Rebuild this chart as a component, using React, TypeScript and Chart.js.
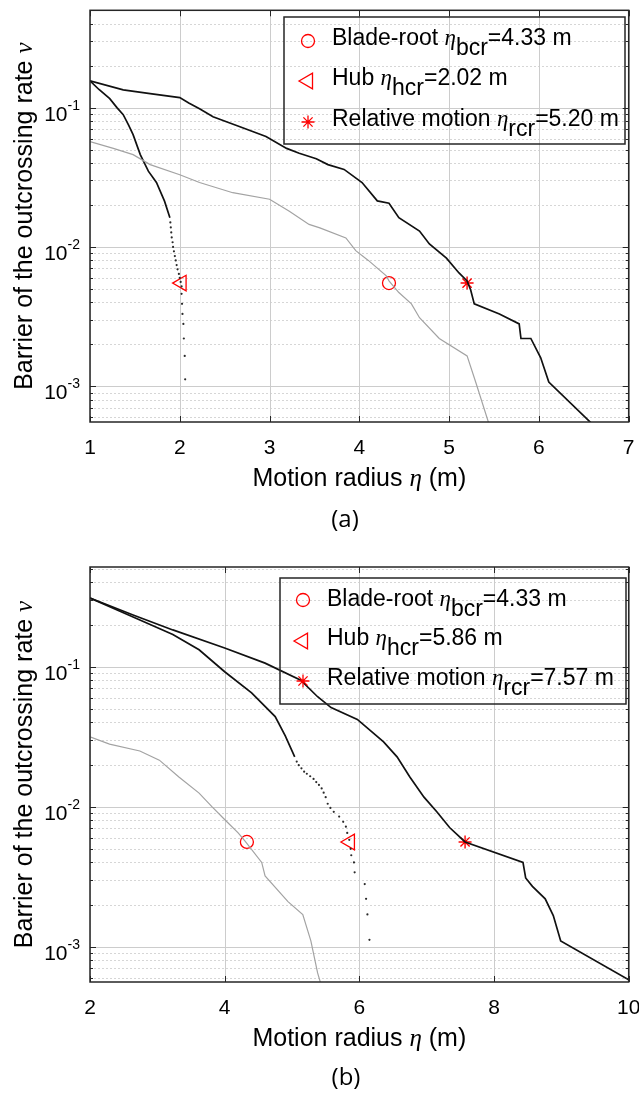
import React, { useEffect, useRef } from 'react';
import { Chart, registerables } from 'chart.js';

Chart.register(...registerables);

// ---------------- Panel (a) data ----------------
const aRelX = [1.0, 1.37, 1.67, 2.0, 2.1, 2.22, 2.37, 2.67, 2.96, 3.19, 3.33, 3.52, 3.65, 3.83, 4.03, 4.2, 4.33, 4.44, 4.67, 4.78, 4.97, 5.11, 5.2, 5.24, 5.28, 5.56, 5.78, 5.8, 5.91, 6.02, 6.11, 6.6];
const aRelY = [0.156, 0.134, 0.126, 0.118, 0.108, 0.098, 0.086, 0.073, 0.062, 0.051, 0.047, 0.043, 0.039, 0.036, 0.029, 0.0214, 0.0206, 0.0162, 0.013, 0.0105, 0.0083, 0.0065, 0.0057, 0.0049, 0.0039, 0.0033, 0.0028, 0.0022, 0.0022, 0.0016, 0.00107, 0.00053];
const aHubX = [1.0, 1.1, 1.22, 1.3, 1.37, 1.43, 1.48, 1.56, 1.65, 1.74, 1.83, 1.89];
const aHubY = [0.156, 0.135, 0.116, 0.1, 0.089, 0.075, 0.064, 0.046, 0.035, 0.029, 0.0213, 0.0162];
const aHubDotX = [1.895, 1.9, 1.905, 1.91, 1.92, 1.925, 1.935, 1.945, 1.955, 1.965, 1.975, 1.99, 2.0, 2.01, 2.02, 2.02, 2.025, 2.03, 2.04, 2.045, 2.055, 2.06];
const aHubDotY = [0.015, 0.0138, 0.0127, 0.0117, 0.0108, 0.01, 0.0093, 0.0086, 0.008, 0.0074, 0.0069, 0.0064, 0.006, 0.0056, 0.0052, 0.0046, 0.0039, 0.0033, 0.0028, 0.0022, 0.00165, 0.00112];
const aBladeX = [1.0, 1.26, 1.48, 1.67, 2.0, 2.22, 2.59, 3.0, 3.22, 3.44, 3.56, 3.85, 3.96, 4.1, 4.3, 4.33, 4.44, 4.58, 4.67, 4.89, 5.2, 5.3, 5.45];
const aBladeY = [0.057, 0.051, 0.046, 0.039, 0.033, 0.029, 0.0245, 0.022, 0.018, 0.0145, 0.0137, 0.0116, 0.0094, 0.008, 0.0062, 0.0057, 0.0047, 0.0039, 0.0031, 0.0022, 0.00165, 0.00105, 0.00052];
const aXTicks = [1, 2, 3, 4, 5, 6, 7];
const aCritical = [4.33, 2.02, 5.2]; // blade-root, hub, relative motion
const aLevel = 0.0055;

// ---------------- Panel (b) data ----------------
const bRelX = [2.0, 2.64, 3.23, 4.0, 4.6, 5.13, 5.38, 5.58, 5.97, 6.36, 6.56, 6.75, 6.96, 7.15, 7.34, 7.57, 8.43, 8.47, 8.57, 8.76, 8.88, 8.99, 10.0];
const bRelY = [0.309, 0.234, 0.183, 0.136, 0.106, 0.08, 0.061, 0.051, 0.042, 0.029, 0.0227, 0.0163, 0.0117, 0.0092, 0.0071, 0.0056, 0.004, 0.0031, 0.0027, 0.0022, 0.00167, 0.0011, 0.00058];
const bHubX = [2.0, 2.64, 3.23, 3.62, 4.0, 4.4, 4.75, 4.9, 5.04];
const bHubY = [0.309, 0.226, 0.17, 0.132, 0.092, 0.065, 0.044, 0.032, 0.0227];
const bHubDotX = [5.07, 5.1, 5.14, 5.18, 5.22, 5.27, 5.32, 5.36, 5.4, 5.44, 5.47, 5.5, 5.53, 5.57, 5.62, 5.7, 5.76, 5.8, 5.82, 5.85, 5.87, 5.88, 5.92, 5.93, 6.08, 6.1, 6.12, 6.15];
const bHubDotY = [0.021, 0.0198, 0.0188, 0.0178, 0.0172, 0.0165, 0.0158, 0.015, 0.0143, 0.0135, 0.0126, 0.0117, 0.0105, 0.0098, 0.0092, 0.0085, 0.0078, 0.0072, 0.0065, 0.0058, 0.005, 0.0045, 0.004, 0.0034, 0.0028, 0.0022, 0.0017, 0.00112];
const bBladeX = [2.0, 2.29, 2.74, 3.03, 3.32, 3.62, 3.81, 4.01, 4.2, 4.3, 4.55, 4.6, 4.94, 5.16, 5.28, 5.38, 5.45];
const bBladeY = [0.0316, 0.028, 0.025, 0.0215, 0.0163, 0.0125, 0.01, 0.008, 0.0065, 0.0057, 0.004, 0.0032, 0.0021, 0.0017, 0.0011, 0.00065, 0.0005];
const bXTicks = [2, 4, 6, 8, 10];
const bCritical = [4.33, 5.86, 7.57];
const bLevel = 0.0056;

// ---------------- Shared labels ----------------
const yTickExponents = [-3, -2, -1];
const minorMultipliers = [2, 3, 4, 5, 6, 7, 8, 9];
const legendLabels = ['Blade-root', 'Hub', 'Relative motion'];
const legendSubs = ['bcr', 'hcr', 'rcr'];
const xTitleText = 'Motion radius ';
const yTitleText = 'Barrier of the outcrossing rate ';

const SANS = '"Liberation Sans", Arial, Helvetica, sans-serif';
const SERIF = '"Liberation Serif", "Times New Roman", serif';
const CAPTION_FONT = '"Open Sans", "Noto Sans", sans-serif';
const RED = '#ff0000';
const BLACK = '#111111';

type Part = { t: string; font: string; dy?: number };

function drawParts(ctx: CanvasRenderingContext2D, parts: Part[], x: number, y: number, align: 'left' | 'center' | 'right') {
  let total = 0;
  const widths = parts.map((p) => {
    ctx.font = p.font;
    const w = ctx.measureText(p.t).width;
    total += w;
    return w;
  });
  let cx = align === 'left' ? x : align === 'center' ? x - total / 2 : x - total;
  ctx.textAlign = 'left';
  ctx.textBaseline = 'alphabetic';
  parts.forEach((p, i) => {
    ctx.font = p.font;
    ctx.fillText(p.t, cx, y + (p.dy || 0));
    cx += widths[i];
  });
}

function drawMarker(ctx: CanvasRenderingContext2D, kind: string, x: number, y: number) {
  ctx.save();
  ctx.strokeStyle = RED;
  ctx.lineWidth = 1.3;
  ctx.beginPath();
  if (kind === 'circle') {
    ctx.arc(x, y, 6.5, 0, Math.PI * 2);
  } else if (kind === 'triangle') {
    const r = 9;
    ctx.moveTo(x - r, y);
    ctx.lineTo(x + r / 2, y - (r * Math.sqrt(3)) / 2);
    ctx.lineTo(x + r / 2, y + (r * Math.sqrt(3)) / 2);
    ctx.closePath();
  } else {
    const r = 6.5;
    for (let k = 0; k < 4; k++) {
      const a = (k * Math.PI) / 4;
      ctx.moveTo(x + Math.cos(a) * r, y + Math.sin(a) * r);
      ctx.lineTo(x - Math.cos(a) * r, y - Math.sin(a) * r);
    }
  }
  ctx.stroke();
  ctx.restore();
}

interface Spec {
  height: number;
  padding: { left: number; right: number; top: number; bottom: number };
  xMin: number; xMax: number; yMin: number; yMax: number;
  xTicks: number[];
  rel: [number[], number[]];
  hub: [number[], number[]];
  hubDots: [number[], number[]];
  blade: [number[], number[]];
  critical: number[];
  level: number;
  legendBox: [number, number, number, number];
  legendMarkerX: number;
  legendTextX: number;
  legendBaselines: number[];
  legendMarkerYs: number[];
  caption: string;
  captionX: number;
  captionBaseline: number;
}

const markerKinds = ['circle', 'triangle', 'star'];

function makePlugin(spec: Spec) {
  return {
    id: 'matlabStyle',
    beforeDatasetsDraw(chart: any) {
      const { ctx, chartArea: ca, scales } = chart;
      const xs = scales.x, ys = scales.y;
      ctx.save();
      ctx.strokeStyle = '#d6d6d6';
      ctx.lineWidth = 1;
      ctx.setLineDash([2, 2]);
      for (let e = -4; e <= 0; e++) {
        for (const m of minorMultipliers) {
          const v = m * Math.pow(10, e);
          if (v <= spec.yMin || v >= spec.yMax) continue;
          const py = Math.round(ys.getPixelForValue(v)) + 0.5;
          ctx.beginPath(); ctx.moveTo(ca.left, py); ctx.lineTo(ca.right, py); ctx.stroke();
        }
      }
      ctx.setLineDash([]);
      ctx.strokeStyle = '#cccccc';
      for (const e of yTickExponents) {
        const py = Math.round(ys.getPixelForValue(Math.pow(10, e))) + 0.5;
        ctx.beginPath(); ctx.moveTo(ca.left, py); ctx.lineTo(ca.right, py); ctx.stroke();
      }
      for (const t of spec.xTicks) {
        const px = Math.round(xs.getPixelForValue(t)) + 0.5;
        ctx.beginPath(); ctx.moveTo(px, ca.top); ctx.lineTo(px, ca.bottom); ctx.stroke();
      }
      ctx.restore();
    },
    afterDatasetsDraw(chart: any) {
      const { ctx, chartArea: ca, scales } = chart;
      const xs = scales.x, ys = scales.y;
      ctx.save();
      ctx.strokeStyle = '#262626';
      ctx.lineWidth = 1.5;
      ctx.strokeRect(ca.left, ca.top, ca.right - ca.left, ca.bottom - ca.top);
      ctx.lineWidth = 1;
      ctx.beginPath();
      for (const t of spec.xTicks) {
        const px = Math.round(xs.getPixelForValue(t)) + 0.5;
        ctx.moveTo(px, ca.bottom); ctx.lineTo(px, ca.bottom - 6);
        ctx.moveTo(px, ca.top); ctx.lineTo(px, ca.top + 6);
      }
      for (let e = -4; e <= 0; e++) {
        for (const m of [1, ...minorMultipliers]) {
          const v = m * Math.pow(10, e);
          if (v <= spec.yMin || v >= spec.yMax) continue;
          const len = m === 1 ? 6 : 3;
          const py = Math.round(ys.getPixelForValue(v)) + 0.5;
          ctx.moveTo(ca.left, py); ctx.lineTo(ca.left + len, py);
          ctx.moveTo(ca.right, py); ctx.lineTo(ca.right - len, py);
        }
      }
      ctx.stroke();

      ctx.fillStyle = '#000';
      ctx.font = `21px ${SANS}`;
      ctx.textAlign = 'center';
      ctx.textBaseline = 'alphabetic';
      for (const t of spec.xTicks) {
        ctx.fillText(String(t), xs.getPixelForValue(t), ca.bottom + 32);
      }
      for (const e of yTickExponents) {
        const py = ys.getPixelForValue(Math.pow(10, e));
        drawParts(ctx, [
          { t: '10', font: `21px ${SANS}`, dy: 13 },
          { t: String(e), font: `14px ${SANS}`, dy: 2 },
        ], ca.left - 10, py, 'right');
      }
      const cx = (ca.left + ca.right) / 2;
      drawParts(ctx, [
        { t: xTitleText, font: `25px ${SANS}` },
        { t: 'η', font: `italic 25px ${SERIF}` },
        { t: ' (m)', font: `25px ${SANS}` },
      ], cx, ca.bottom + 64, 'center');
      ctx.save();
      ctx.translate(32, (ca.top + ca.bottom) / 2);
      ctx.rotate(-Math.PI / 2);
      drawParts(ctx, [
        { t: yTitleText, font: `25px ${SANS}` },
        { t: 'ν', font: `italic 25px ${SERIF}` },
      ], 0, 0, 'center');
      ctx.restore();

      // legend (transparent box, as in the reference)
      const [bx0, by0, bx1, by1] = spec.legendBox;
      ctx.strokeStyle = '#262626';
      ctx.lineWidth = 1.5;
      ctx.strokeRect(bx0, by0, bx1 - bx0, by1 - by0);
      ctx.fillStyle = '#000';
      legendLabels.forEach((lab, i) => {
        drawMarker(ctx, markerKinds[i], spec.legendMarkerX, spec.legendMarkerYs[i]);
        drawParts(ctx, [
          { t: lab + ' ', font: `23px ${SANS}` },
          { t: 'η', font: `italic 23px ${SERIF}` },
          { t: legendSubs[i], font: `23px ${SANS}`, dy: 10 },
          { t: '=' + spec.critical[i].toFixed(2) + ' m', font: `23px ${SANS}` },
        ], spec.legendTextX, spec.legendBaselines[i], 'left');
      });

      ctx.font = `24px ${CAPTION_FONT}`;
      ctx.textAlign = 'center';
      ctx.fillStyle = '#000';
      ctx.fillText(spec.caption, spec.captionX, spec.captionBaseline);
      ctx.restore();
    },
  };
}

function pts(xs: number[], ys: number[]) {
  return xs.map((x, i) => ({ x, y: ys[i] }));
}

function buildConfig(spec: Spec): any {
  const markerData = spec.critical.map((c) => [{ x: c, y: spec.level }]);
  return {
    type: 'scatter',
    data: {
      datasets: [
        { label: 'blade', data: pts(...spec.blade), showLine: true, borderColor: '#a3a3a3', borderWidth: 1.2, pointRadius: 0 },
        { label: 'hub', data: pts(...spec.hub), showLine: true, borderColor: BLACK, borderWidth: 1.7, pointRadius: 0 },
        { label: 'hubDots', data: pts(...spec.hubDots), showLine: false, pointRadius: 1.1, pointBackgroundColor: '#2a2a2a', pointBorderWidth: 0 },
        { label: 'rel', data: pts(...spec.rel), showLine: true, borderColor: BLACK, borderWidth: 1.7, pointRadius: 0 },
        { label: 'mBlade', data: markerData[0], showLine: false, pointStyle: 'circle', pointRadius: 6.5, pointBorderColor: RED, pointBackgroundColor: 'rgba(0,0,0,0)', pointBorderWidth: 1.3 },
        { label: 'mHub', data: markerData[1], showLine: false, pointStyle: 'triangle', pointRotation: -90, pointRadius: 9, pointBorderColor: RED, pointBackgroundColor: 'rgba(0,0,0,0)', pointBorderWidth: 1.3 },
        { label: 'mRel', data: markerData[2], showLine: false, pointStyle: 'star', pointRadius: 6.5, pointBorderColor: RED, pointBackgroundColor: 'rgba(0,0,0,0)', pointBorderWidth: 1.4 },
      ],
    },
    options: {
      responsive: false,
      animation: false,
      devicePixelRatio: 1,
      layout: { padding: spec.padding },
      scales: {
        x: { type: 'linear', min: spec.xMin, max: spec.xMax, display: false },
        y: { type: 'logarithmic', min: spec.yMin, max: spec.yMax, display: false },
      },
      plugins: { legend: { display: false }, tooltip: { enabled: false } },
      events: [],
    },
    plugins: [makePlugin(spec)],
  };
}

const specA: Spec = {
  height: 540,
  padding: { left: 90, right: 8, top: 8, bottom: 118 },
  xMin: 1, xMax: 7, yMin: 0.000553, yMax: 0.5,
  xTicks: aXTicks,
  rel: [aRelX, aRelY], hub: [aHubX, aHubY], hubDots: [aHubDotX, aHubDotY], blade: [aBladeX, aBladeY],
  critical: aCritical, level: aLevel,
  legendBox: [284, 17, 625, 144],
  legendMarkerX: 308, legendTextX: 332,
  legendBaselines: [45, 85, 126], legendMarkerYs: [41, 81, 122],
  caption: '(a)', captionX: 345, captionBaseline: 527,
};

const specB: Spec = {
  height: 558,
  padding: { left: 90, right: 7, top: 27, bottom: 116 },
  xMin: 2, xMax: 10, yMin: 0.00056, yMax: 0.515,
  xTicks: bXTicks,
  rel: [bRelX, bRelY], hub: [bHubX, bHubY], hubDots: [bHubDotX, bHubDotY], blade: [bBladeX, bBladeY],
  critical: bCritical, level: bLevel,
  legendBox: [280, 38, 626, 164],
  legendMarkerX: 303, legendTextX: 327,
  legendBaselines: [66, 105, 145], legendMarkerYs: [60, 101, 141],
  caption: '(b)', captionX: 346, captionBaseline: 545,
};

function Panel({ spec }: { spec: Spec }) {
  const ref = useRef<HTMLCanvasElement>(null);
  useEffect(() => {
    const chart = new Chart(ref.current as HTMLCanvasElement, buildConfig(spec));
    return () => chart.destroy();
  }, [spec]);
  return (
    <canvas
      ref={ref}
      width={639}
      height={spec.height}
      style={{ display: 'block', width: 639, height: spec.height }}
    />
  );
}

export default function App() {
  return (
    <div style={{ position: 'absolute', left: 0, top: 0, width: 639, height: 1098, background: '#ffffff' }}>
      <Panel spec={specA} />
      <Panel spec={specB} />
    </div>
  );
}
